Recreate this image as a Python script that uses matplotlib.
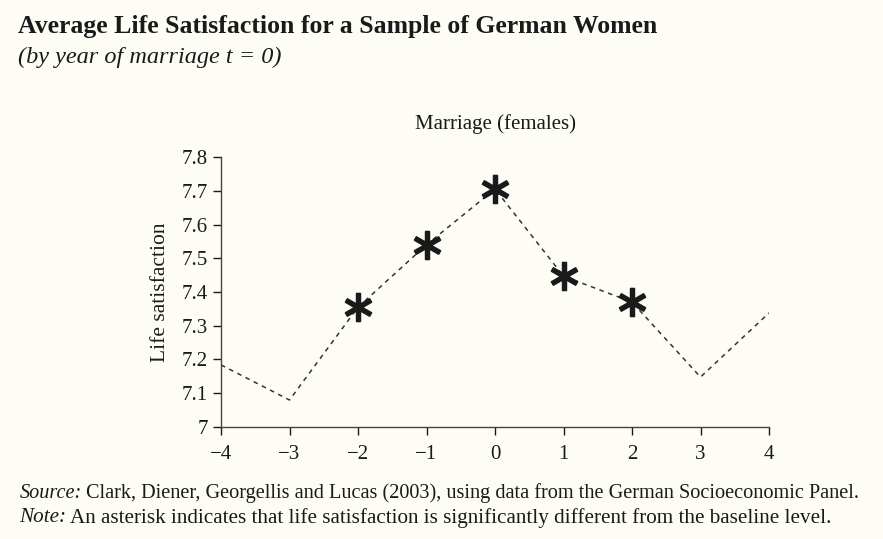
import matplotlib.pyplot as plt

plt.rcParams['font.family'] = ['Liberation Serif', 'DejaVu Serif']

# data
years = [-4, -3, -2, -1, 0, 1, 2, 3, 4]
satisfaction = [7.184, 7.08, 7.355, 7.54, 7.705, 7.447, 7.37, 7.148, 7.338]
significant = [False, False, True, True, True, True, True, False, False]

y_ticks = [7, 7.1, 7.2, 7.3, 7.4, 7.5, 7.6, 7.7, 7.8]
y_tick_labels = ['7', '7.1', '7.2', '7.3', '7.4', '7.5', '7.6', '7.7', '7.8']
x_tick_labels = ['\u22124', '\u22123', '\u22122', '\u22121', '0', '1', '2', '3', '4']

bg = '#fdfcf5'
ink = '#1a1a1a'

fig = plt.figure(figsize=(8.83, 5.39), dpi=100, facecolor=bg)
ax = fig.add_axes([0.2503, 0.2078, 0.6206, 0.5009], facecolor=bg)

ax.plot(years, satisfaction, color='#333333', linewidth=1.1, dashes=(3, 3))
sig_x = [x for x, s in zip(years, significant) if s]
sig_y = [y for y, s in zip(satisfaction, significant) if s]
ax.plot(sig_x, sig_y, linestyle='none', marker='$\\ast$', markersize=20,
        color=ink, markeredgewidth=1.3)

ax.set_xlim(-4, 4)
ax.set_ylim(7, 7.8)
ax.set_xticks(years)
ax.set_xticklabels(x_tick_labels)
ax.set_yticks(y_ticks)
ax.set_yticklabels(y_tick_labels)
ax.tick_params(axis='both', labelsize=15, colors=ink, width=1, length=6)
ax.tick_params(axis='x', pad=7)
for side in ['top', 'right']:
    ax.spines[side].set_visible(False)
for side in ['left', 'bottom']:
    ax.spines[side].set_color('#444444')
    ax.spines[side].set_linewidth(1)

ax.set_ylabel('Life satisfaction', fontsize=15.5, color=ink, labelpad=8)
ax.set_title('Marriage (females)', fontsize=15, color=ink, pad=20)

fig.text(0.02, 0.95, 'Average Life Satisfaction for a Sample of German Women',
         fontsize=18.5, fontweight='bold', color=ink, va='center')
fig.text(0.02, 0.893, '(by year of marriage t = 0)', fontsize=17.5,
         style='italic', color=ink, va='center')

# footnotes: italic lead word followed by upright text
renderer = fig.canvas.get_renderer()
for lead, rest, y, size in [('Source:', 'Clark, Diener, Georgellis and Lucas (2003), using data from the German Socioeconomic Panel.', 0.085, 14.6),
                            ('Note:', 'An asterisk indicates that life satisfaction is significantly different from the baseline level.', 0.039, 15.2)]:
    t = fig.text(0.022, y, lead, fontsize=size, style='italic', color=ink, va='center')
    bb = t.get_window_extent(renderer)
    x_next = (bb.x1 + 4) / fig.bbox.width
    fig.text(x_next, y, rest, fontsize=size, color=ink, va='center')

fig.savefig('out.png', dpi=100, facecolor=bg)
